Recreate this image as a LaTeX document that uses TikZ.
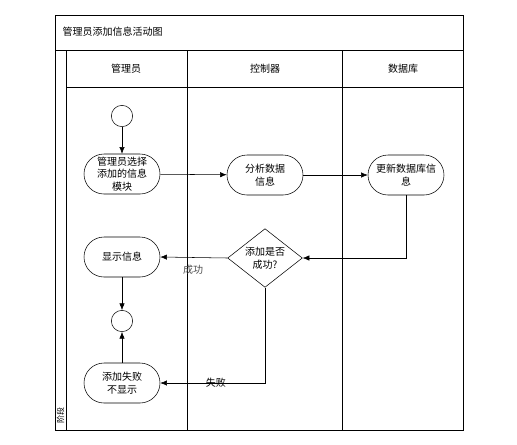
\documentclass[tikz,border=0pt]{standalone}
\usepackage{fontspec}
\setmainfont{Noto Sans CJK SC}
\usetikzlibrary{shapes.geometric,arrows.meta}

\tikzset{
	act/.style={draw, rounded corners=15pt, minimum width=57pt, minimum height=30pt, inner sep=1pt, align=center, font=\fontsize{7.5}{9.5}\selectfont},
	state/.style={draw, circle, minimum size=16pt, inner sep=0pt},
	choice/.style={draw, diamond, aspect=1.25, minimum width=56pt, minimum height=44pt, inner sep=0pt, align=center, font=\fontsize{7.5}{9.5}\selectfont},
	flow/.style={-{Latex[length=5pt,width=4pt]}},
	lbl/.style={font=\fontsize{7.5}{9}\selectfont}
}

\begin{document}
\begin{tikzpicture}[x=0.75pt, y=-0.75pt, thin]
	\useasboundingbox (0,0) rectangle (517,444);
	%frame and lanes
	\draw (55,15) rectangle (463,430);
	\draw (55,50) -- (463,50);
	\draw (66,87) -- (463,87);
	\draw (66,50) -- (66,430);
	\foreach \x in {187, 342}{
		\draw (\x,50) -- (\x,430);
	}
	\node[lbl, anchor=west] (title) at (58,32) {管理员添加信息活动图};
	\node[lbl] (laneA) at (126,69) {管理员};
	\node[lbl] (laneB) at (265,69) {控制器};
	\node[lbl] (laneC) at (403,69) {数据库};
	\node[font=\fontsize{6}{6}\selectfont, rotate=90, inner sep=0pt] (stage) at (60.5,415) {阶段};
	
	%activities
	\node[state] (start) at (122,116) {};
	\node[act] (choose) at (122,174) {管理员选择\\添加的信息\\模块};
	\node[act] (parse) at (265,175) {分析数据\\信息};
	\node[act] (update) at (406,175) {更新数据库信\\息};
	\node[choice] (ok) at (265,258) {添加是否\\成功?};
	\node[act] (show) at (122,257) {显示信息};
	\node[state] (stop) at (122,321) {};
	\node[act] (fail) at (122,383) {添加失败\\不显示};
	
	\draw[flow] (start) -- (choose);
	\draw[flow] (choose) -- (parse);
	\draw[flow] (parse) -- (update);
	\draw[flow] (update.south) |- (ok.east);
	\draw[flow] (ok.west) -- (show.east);
	\node[lbl, text=black!70] (yes) at (193,270) {成功};
	\draw[flow] (show) -- (stop);
	\draw[flow] (fail) -- (stop);
	\draw[flow] (ok.south) |- (fail.east) node[lbl, pos=0.735, inner sep=0.5pt] (no) {失败};
\end{tikzpicture}
\end{document}
